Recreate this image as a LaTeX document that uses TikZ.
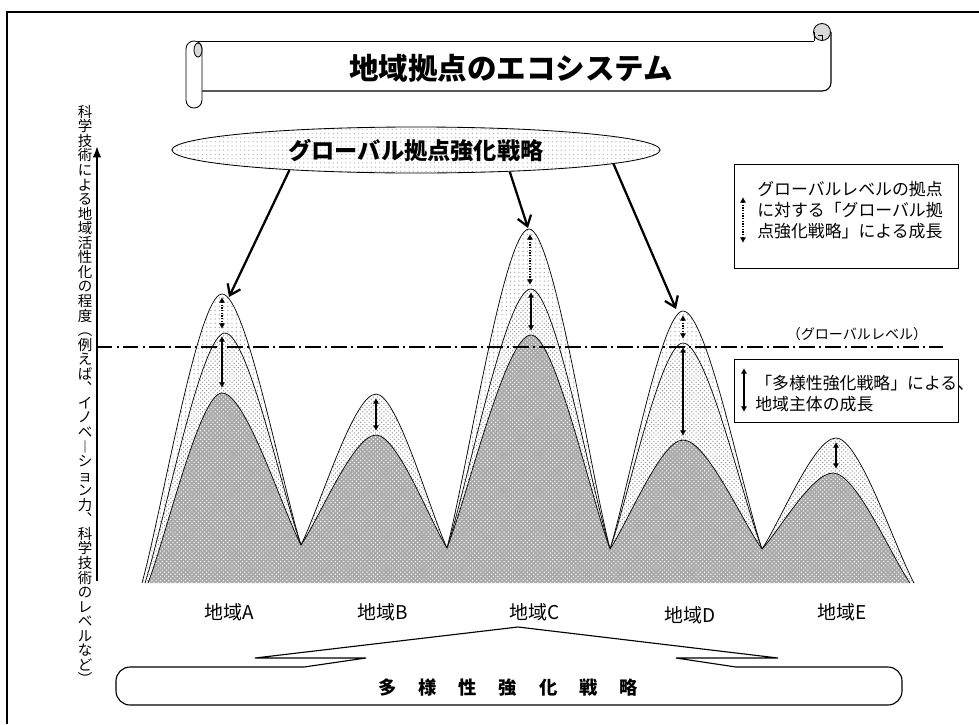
\documentclass[tikz,border=0pt]{standalone}
\usepackage{fontspec}
\setmainfont{Noto Sans CJK JP}
\usetikzlibrary{positioning, shapes.geometric, arrows.meta, patterns}

% one hill: from the current valley up to the peak and down to the next valley
\newcommand{\hill}[6]{.. controls ({#1+0.25*(#3-#1)},{#2+0.25*(#4-#2)}) and ({#3-0.3*(#3-#1)},#4) .. (#3,#4) .. controls ({#3+0.3*(#5-#3)},#4) and ({#5-0.25*(#5-#3)},{#6+0.25*(#4-#6)}) .. (#5,#6)}
\newcommand{\gapj}{\hspace{1.2em}}

\tikzstyle{toplayer} = [draw=black, line width=0.5pt, preaction={fill=white}, pattern=dots, pattern color=gray!70]
\tikzstyle{midlayer} = [draw=black, line width=0.5pt, preaction={fill=white}, pattern=crosshatch dots, pattern color=gray!85]
\tikzstyle{baselayer} = [draw=black, line width=0.5pt, preaction={fill=gray!68}, pattern=crosshatch dots, pattern color=white]
\tikzstyle{arrow} = [line width=1.6pt, -{Straight Barb[length=7pt,width=10pt]}]
\tikzstyle{riseline} = [line width=0.9pt, {Latex[length=4pt,width=4.5pt]}-{Latex[length=4pt,width=4.5pt]}]
\tikzstyle{risedot} = [riseline, densely dotted]
\tikzstyle{axis} = [line width=1.4pt, -{Latex[length=8pt,width=6pt]}]
\tikzstyle{dashdot} = [line width=1pt, dash pattern=on 11pt off 3pt on 1.5pt off 3pt]
\tikzstyle{legendbox} = [draw=black, line width=0.6pt]
\tikzstyle{every node}=[font=\fontsize{12}{14.9}\selectfont]

\begin{document}
\begin{tikzpicture}[x=0.025cm, y=-0.025cm]
		\useasboundingbox (0,0) rectangle (979,724);
		\draw[line width=1.5pt] (7,724) -- (7,12) -- (979,12);
		
		%title scroll
		\draw[line width=0.6pt] (198,41) -- (814,41);
		\draw[line width=0.8pt, rounded corners=6pt] (202,91) -- (831,91) -- (831,32);
		\draw[line width=0.6pt, fill=gray!30] (822,32) circle (8.5);
		\draw[line width=0.6pt] (814,32) -- (814,41);
		\draw[line width=0.6pt] (822,41) -- (822,35) -- (818,35);
		\draw[line width=0.6pt, fill=white, rounded corners=5.6pt] (186,41) rectangle (202,108);
		\draw[line width=0.6pt, fill=gray!30] (198,50) ellipse (4 and 7);
		\node[font=\bfseries\fontsize{21}{21}\selectfont] (title) at (511,68) {地域拠点のエコシステム};
		
		%vertical axis
		\coordinate (ybot) at (97,581);
		\coordinate (ytop) at (97,146);
		\draw[axis] (ybot) -- (ytop);
		\node[font=\fontsize{10.3}{10.35}\selectfont, align=center, inner sep=0] (ylabel) at (85,395) {科\\学\\技\\術\\に\\よ\\る\\地\\域\\活\\性\\化\\の\\程\\度\\︵\\例\\え\\ば\\︑\\イ\\ノ\\ベ\\︱\\シ\\ョ\\ン\\力\\︑\\科\\学\\技\\術\\の\\レ\\ベ\\ル\\な\\ど\\︶};
		
		%hills
		\path[toplayer] (142,583) \hill{142}{583}{222}{294}{301}{545}
			(447,548) \hill{447}{548}{529}{229}{610}{549}
			(610,549) \hill{610}{549}{683}{311}{762}{549};
		\path[midlayer] (145,583) \hill{145}{583}{225}{333}{301}{545} \hill{301}{545}{376}{394}{447}{548} \hill{447}{548}{531}{289}{610}{549} \hill{610}{549}{683}{343}{762}{549} \hill{762}{549}{836}{438}{914}{583};
		\path[baselayer] (148,583) \hill{148}{583}{222}{393}{301}{545} \hill{301}{545}{376}{435}{447}{548} \hill{447}{548}{531}{335}{610}{549} \hill{610}{549}{683}{440}{762}{549} \hill{762}{549}{833}{473}{910}{583};
		
		%global level
		\coordinate (glL) at (97,347);
		\coordinate (glR) at (943,347);
		\draw[dashdot] (glL) -- (glR);
		\node[font=\fontsize{10}{10}\selectfont] (gllabel) at (857,334) {（グローバルレベル）};
		
		%growth arrows
		\foreach \n/\x/\a/\b in {A/222/336/388, B/376/398/431, C/531/292/331, D/683/347/436, E/836/442/469}{
			\coordinate (s\n1) at (\x,\a);
			\coordinate (s\n2) at (\x,\b);
			\draw[riseline] (s\n1) -- (s\n2);
		}
		\foreach \n/\x/\a/\b in {A/222/297/329, C/530/234/285, D/683/315/339}{
			\coordinate (d\n1) at (\x,\a);
			\coordinate (d\n2) at (\x,\b);
			\draw[risedot] (d\n1) -- (d\n2);
		}
		
		%global strategy
		\node[ellipse, draw, line width=0.6pt, minimum width=12.2cm, minimum height=1.15cm, inner sep=0, preaction={fill=white}, pattern=dots, pattern color=gray!55, font=\bfseries\fontsize{16.5}{16.5}\selectfont] (glob) at (416,150) {グローバル拠点強化戦略};
		\coordinate (tipA) at (229,297);
		\coordinate (tipC) at (528,228);
		\coordinate (tipD) at (676,309);
		\draw[arrow] (glob.189) -- (tipA);
		\draw[arrow] (glob.347) -- (tipC);
		\draw[arrow] (glob.356.5) -- (tipD);
		
		%legends
		\draw[legendbox] (734,164) rectangle (958,268);
		\coordinate (lg1a) at (743,197);
		\coordinate (lg1b) at (743,243);
		\draw[risedot] (lg1a) -- (lg1b);
		\node[anchor=west, align=left, inner sep=0] (leg1) at (757,210) {グローバルレベルの拠点\\に対する「グローバル拠\\点強化戦略」による成長};
		\draw[legendbox] (734,359) rectangle (958,422);
		\coordinate (lg2a) at (744,368);
		\coordinate (lg2b) at (744,412);
		\draw[riseline] (lg2a) -- (lg2b);
		\node[anchor=west, align=left, inner sep=0] (leg2) at (755,394) {「多様性強化戦略」による、\\地域主体の成長};
		
		%regions
		\node[font=\fontsize{13.5}{13.5}\selectfont] (regA) at (229,612) {地域A};
		\node[font=\fontsize{13.5}{13.5}\selectfont] (regB) at (383,612) {地域B};
		\node[font=\fontsize{13.5}{13.5}\selectfont] (regC) at (535,612) {地域C};
		\node[font=\fontsize{13.5}{13.5}\selectfont] (regD) at (690,615) {地域D};
		\node[font=\fontsize{13.5}{13.5}\selectfont] (regE) at (842,612) {地域E};
		
		%diversity strategy
		\draw[line width=0.8pt] (304,667) -- (366,658) -- (255,658) -- (518,627) -- (778,658) -- (676,658) -- (736,667) [rounded corners=10pt] -- (902,667) -- (902,705) -- (116,705) -- (116,667) -- (150,667) [sharp corners] -- (304,667);
		\node[font=\bfseries\fontsize{13}{13}\selectfont] (div) at (508,688) {多\gapj 様\gapj 性\gapj 強\gapj 化\gapj 戦\gapj 略};
	\end{tikzpicture}
\end{document}
